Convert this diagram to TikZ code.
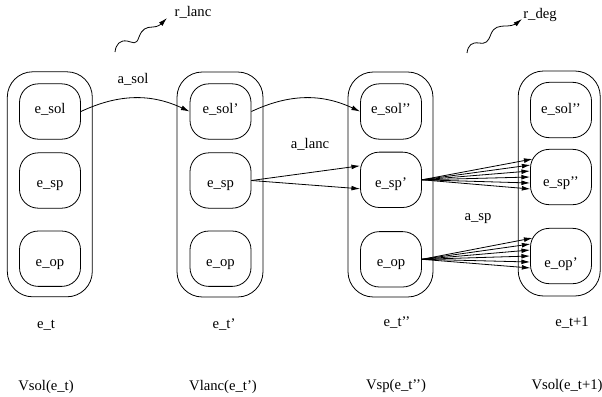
\documentclass[tikz,border=0pt]{standalone}
\usepackage{fontspec}
\setmainfont{Liberation Serif}
\usetikzlibrary{arrows.meta,calc}
\newcommand\intext[2]{\raisebox{-#1pt}[0pt][0pt]{#2}}
\begin{document}
\begin{tikzpicture}[x=0.75pt,y=-0.75pt,
  font=\fontsize{11}{13}\selectfont, line width=0.6pt,
  inner/.style={draw, rounded corners=14pt, minimum width=45.75pt, minimum height=41.5pt, inner sep=0pt},
  outer/.style={draw, rounded corners=19pt, minimum height=168.75pt, inner sep=0pt},
  tip/.style={-{Latex[length=6.5pt,width=3.6pt]}},
  lbl/.style={inner sep=0pt}]
\useasboundingbox (0,0) rectangle (602,396);

% outer boxes
\node[outer, minimum width=63.75pt] (o1) at (49.8,184.3) {};
\node[outer, minimum width=64.5pt]  (o2) at (220,184.5) {};
\node[outer, minimum width=63.75pt] (o3) at (390.5,184.5) {};
\node[outer, minimum width=61.5pt]  (o4) at (559.2,183.5) {};

% inner states
\node[inner] (sol1) at (50,111.5) {\intext{1.75}{e\_sol}};
\node[inner] (sp1)  at (50,180.5) {\intext{5.5}{e\_sp}};
\node[inner] (op1)  at (50,258.7) {\intext{5.5}{e\_op}};

\node[inner] (sol2) at (220.5,111.5) {\intext{1.75}{e\_sol'}};
\node[inner] (sp2)  at (220.5,180.5) {\intext{5.5}{e\_sp}};
\node[inner] (op2)  at (220.5,258.7) {\intext{5.5}{e\_op}};

\node[inner] (sol3) at (391,111.5) {\intext{1.75}{e\_sol'{}'}};
\node[inner] (sp3)  at (391,179.8) {\intext{5.5}{e\_sp'}};
\node[inner] (op3)  at (391,259.3) {\intext{5.5}{e\_op}};

\node[inner] (sol4) at (561,110) {\intext{2.5}{e\_sol'{}'}};
\node[inner] (sp4)  at (561,177) {\intext{7}{e\_sp'{}'}};
\node[inner] (op4)  at (561,256) {\intext{8.5}{e\_op'}};

% labels
\node[lbl] (asol)  at (133,79)  {a\_sol};
\node[lbl] (alanc) at (310,144) {a\_lanc};
\node[lbl] (asp)   at (478,219) {a\_sp};
\node[lbl] (rlanc) at (193,12)  {r\_lanc};
\node[lbl] (rdeg)  at (540,15)  {r\_deg};

\node[lbl] (et1) at (46,325)  {e\_t};
\node[lbl] (et2) at (224,325) {e\_t'};
\node[lbl] (et3) at (397,323) {e\_t'{}'};
\node[lbl] (et4) at (572,323) {e\_t+1};

\node[lbl] (v1) at (46,387)  {Vsol(e\_t)};
\node[lbl] (v2) at (223,387) {Vlanc(e\_t')};
\node[lbl] (v3) at (396,386) {Vsp(e\_t'{}')};
\node[lbl] (v4) at (567,386) {Vsol(e\_t+1)};

% wavy arrows
\coordinate (w1s) at (115,52);
\coordinate (w1e) at (167,18);
\draw[tip] (w1s) .. controls (116,44) and (120,40) .. (127,41)
  .. controls (133,42) and (136,46) .. (139,37)
  .. controls (142,29) and (146,27) .. (153,27)
  .. controls (158,27) and (161,24) .. (w1e);
\coordinate (w2s) at (467,53);
\coordinate (w2e) at (522,19);
\draw[tip] (w2s) .. controls (468,45) and (472,42) .. (479,43)
  .. controls (486,44) and (488,42) .. (491,34)
  .. controls (494,27) and (498,26) .. (507,26)
  .. controls (513,26) and (517,23) .. (w2e);

% actions
\draw[tip] (sol1.east) to[out=25,in=155] (sol2.west);
\draw[tip] (sol2.east) to[out=25,in=155] (sol3.west);
\draw[tip] (sp2.east) -- ($(sp3.west)+(0,-14)$);
\draw[tip] (sp2.east) -- ($(sp3.west)+(0,9)$);
\foreach \d/\x in {-18/2.5,-12/0.4,-6/0,0/0,6/0,12/0.4}{
  \draw[tip] (sp3.east) -- ($(sp4.west)+(\x,\d)$);
  \draw[tip] (op3.east) -- ($(op4.west)+(\x,\d)$);
}
\end{tikzpicture}
\end{document}
